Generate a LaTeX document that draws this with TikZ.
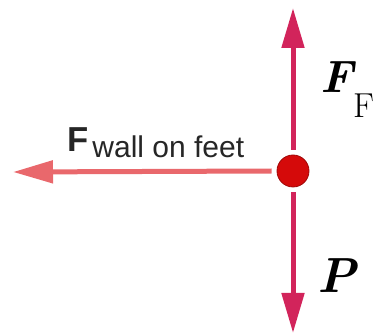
\documentclass[tikz,border=0pt]{standalone}
\usepackage{fontspec}
\newfontfamily\labelsans{Liberation Sans}
\usetikzlibrary{arrows.meta, positioning}
\definecolor{cforce}{HTML}{D2245B}
\definecolor{cwall}{HTML}{E9686C}
\definecolor{cdot}{HTML}{D50A0A}
\definecolor{ctext}{HTML}{262626}
\tikzset{
  force/.style={draw=#1, line width=3.75pt, -{Triangle[length=30pt, width=16.5pt]}},
  force/.default=cforce,
  point/.style={circle, fill=cdot, draw=cdot!75!black, line width=0.6pt, minimum size=24pt, inner sep=0pt, outer sep=4pt},
  label/.style={anchor=base west, inner sep=0pt},
}

\begin{document}
\begin{tikzpicture}[x=0.75pt, y=-0.75pt]
  \useasboundingbox (0,0) rectangle (376,335);
  % the point where the forces act
  \node[point] (dot) at (293,171) {};
  \coordinate (up) at (293,8);
  \coordinate (down) at (293,333);
  \coordinate (wall) at (13,172);
  % forces
  \draw[force] (dot.north) -- (up);
  \draw[force] (dot.south) -- (down);
  \draw[force=cwall] (dot.west) -- (wall);
  % labels
  \node[label] (ff) at (320,93) {\fontsize{34}{34}\selectfont\bfseries\itshape F\raisebox{-18.75pt}{\normalfont\fontsize{26}{26}\selectfont F}};
  \node[label] (p) at (317,293) {\fontsize{37}{37}\selectfont\bfseries\itshape P};
  \node[label, text=ctext] (fwall) at (67,152) {\labelsans\fontsize{26}{26}\selectfont\bfseries F\hspace{3pt}\raisebox{-4.5pt}{\mdseries\fontsize{22.5}{22.5}\selectfont wall on feet}};
\end{tikzpicture}
\end{document}
